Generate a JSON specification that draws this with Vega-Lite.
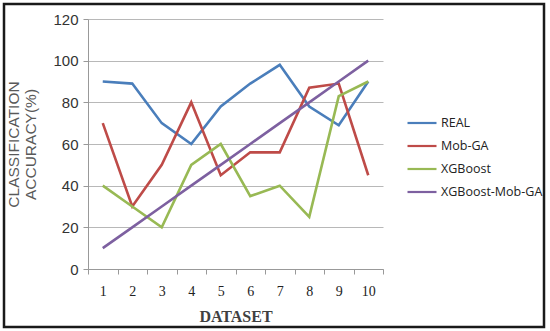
{
  "$schema": "https://vega.github.io/schema/vega-lite/v6.json",
  "width": 295,
  "height": 250,
  "autosize": {"type": "none"},
  "padding": {"left": 88, "top": 19, "right": 167, "bottom": 62},
  "background": "white",
  "config": {"view": {"stroke": null}},
  "layer": [
    {
      "data": {"values": [{}]},
      "mark": {"type": "rect", "fill": null, "stroke": "#1a1a1a", "strokeWidth": 2.5},
      "encoding": {
        "x": {"value": -84},
        "x2": {"value": 456},
        "y": {"value": -15},
        "y2": {"value": 308}
      }
    },
    {
      "data": {
        "values": [
          {"dataset": "1", "model": "REAL", "value": 90},
          {"dataset": "2", "model": "REAL", "value": 89},
          {"dataset": "3", "model": "REAL", "value": 70},
          {"dataset": "4", "model": "REAL", "value": 60},
          {"dataset": "5", "model": "REAL", "value": 78},
          {"dataset": "6", "model": "REAL", "value": 89},
          {"dataset": "7", "model": "REAL", "value": 98},
          {"dataset": "8", "model": "REAL", "value": 78},
          {"dataset": "9", "model": "REAL", "value": 69},
          {"dataset": "10", "model": "REAL", "value": 90},
          {"dataset": "1", "model": "Mob-GA", "value": 70},
          {"dataset": "2", "model": "Mob-GA", "value": 30},
          {"dataset": "3", "model": "Mob-GA", "value": 50},
          {"dataset": "4", "model": "Mob-GA", "value": 80},
          {"dataset": "5", "model": "Mob-GA", "value": 45},
          {"dataset": "6", "model": "Mob-GA", "value": 56},
          {"dataset": "7", "model": "Mob-GA", "value": 56},
          {"dataset": "8", "model": "Mob-GA", "value": 87},
          {"dataset": "9", "model": "Mob-GA", "value": 89},
          {"dataset": "10", "model": "Mob-GA", "value": 45},
          {"dataset": "1", "model": "XGBoost", "value": 40},
          {"dataset": "2", "model": "XGBoost", "value": 30},
          {"dataset": "3", "model": "XGBoost", "value": 20},
          {"dataset": "4", "model": "XGBoost", "value": 50},
          {"dataset": "5", "model": "XGBoost", "value": 60},
          {"dataset": "6", "model": "XGBoost", "value": 35},
          {"dataset": "7", "model": "XGBoost", "value": 40},
          {"dataset": "8", "model": "XGBoost", "value": 25},
          {"dataset": "9", "model": "XGBoost", "value": 83},
          {"dataset": "10", "model": "XGBoost", "value": 90},
          {"dataset": "1", "model": "XGBoost-Mob-GA", "value": 10},
          {"dataset": "2", "model": "XGBoost-Mob-GA", "value": 20},
          {"dataset": "3", "model": "XGBoost-Mob-GA", "value": 30},
          {"dataset": "4", "model": "XGBoost-Mob-GA", "value": 40},
          {"dataset": "5", "model": "XGBoost-Mob-GA", "value": 50},
          {"dataset": "6", "model": "XGBoost-Mob-GA", "value": 60},
          {"dataset": "7", "model": "XGBoost-Mob-GA", "value": 70},
          {"dataset": "8", "model": "XGBoost-Mob-GA", "value": 80},
          {"dataset": "9", "model": "XGBoost-Mob-GA", "value": 90},
          {"dataset": "10", "model": "XGBoost-Mob-GA", "value": 100}
        ]
      },
      "mark": {"type": "line", "strokeWidth": 2.6},
      "encoding": {
        "x": {
          "field": "dataset",
          "type": "ordinal",
          "sort": ["1","2","3","4","5","6","7","8","9","10"],
          "scale": {"type": "band", "paddingInner": 0, "paddingOuter": 0},
          "axis": {
            "title": "DATASET",
            "titleFont": "Liberation Serif",
            "titleFontWeight": "bold",
            "titleFontSize": 16,
            "titleColor": "#404040",
            "titlePadding": 10,
            "labelAngle": 0,
            "labelFont": "Liberation Serif",
            "labelFontSize": 14,
            "labelColor": "#222222",
            "labelPadding": 10,
            "tickBand": "extent",
            "tickSize": 5,
            "tickColor": "#999999",
            "domainColor": "#999999",
            "grid": false
          }
        },
        "y": {
          "field": "value",
          "type": "quantitative",
          "scale": {"domain": [0, 120]},
          "axis": {
            "values": [0, 20, 40, 60, 80, 100, 120],
            "title": ["CLASSIFICATION", "ACCURACY(%)"],
            "titleFont": "Liberation Sans",
            "titleFontWeight": "normal",
            "titleFontSize": 15.5,
            "titleLineHeight": 17,
            "titleColor": "#595959",
            "titlePadding": 14,
            "labelFont": "Liberation Sans",
            "labelFontSize": 15,
            "labelColor": "#333333",
            "labelPadding": 5,
            "tickSize": 5,
            "tickColor": "#999999",
            "domainColor": "#999999",
            "gridColor": "#b8b8b8",
            "gridWidth": 1
          }
        },
        "color": {
          "field": "model",
          "type": "nominal",
          "scale": {
            "domain": ["REAL", "Mob-GA", "XGBoost", "XGBoost-Mob-GA"],
            "range": ["#4A7EBB", "#BE4B48", "#98B954", "#7D60A0"]
          },
          "legend": {
            "title": null,
            "orient": "none",
            "legendX": 318,
            "legendY": 88,
            "padding": 0,
            "symbolType": "stroke",
            "symbolSize": 841,
            "symbolStrokeWidth": 2.2,
            "rowPadding": -3,
            "labelOffset": 3,
            "labelFont": "Open Sans",
            "labelFontSize": 12.5,
            "labelColor": "#222222"
          }
        }
      }
    }
  ]
}
